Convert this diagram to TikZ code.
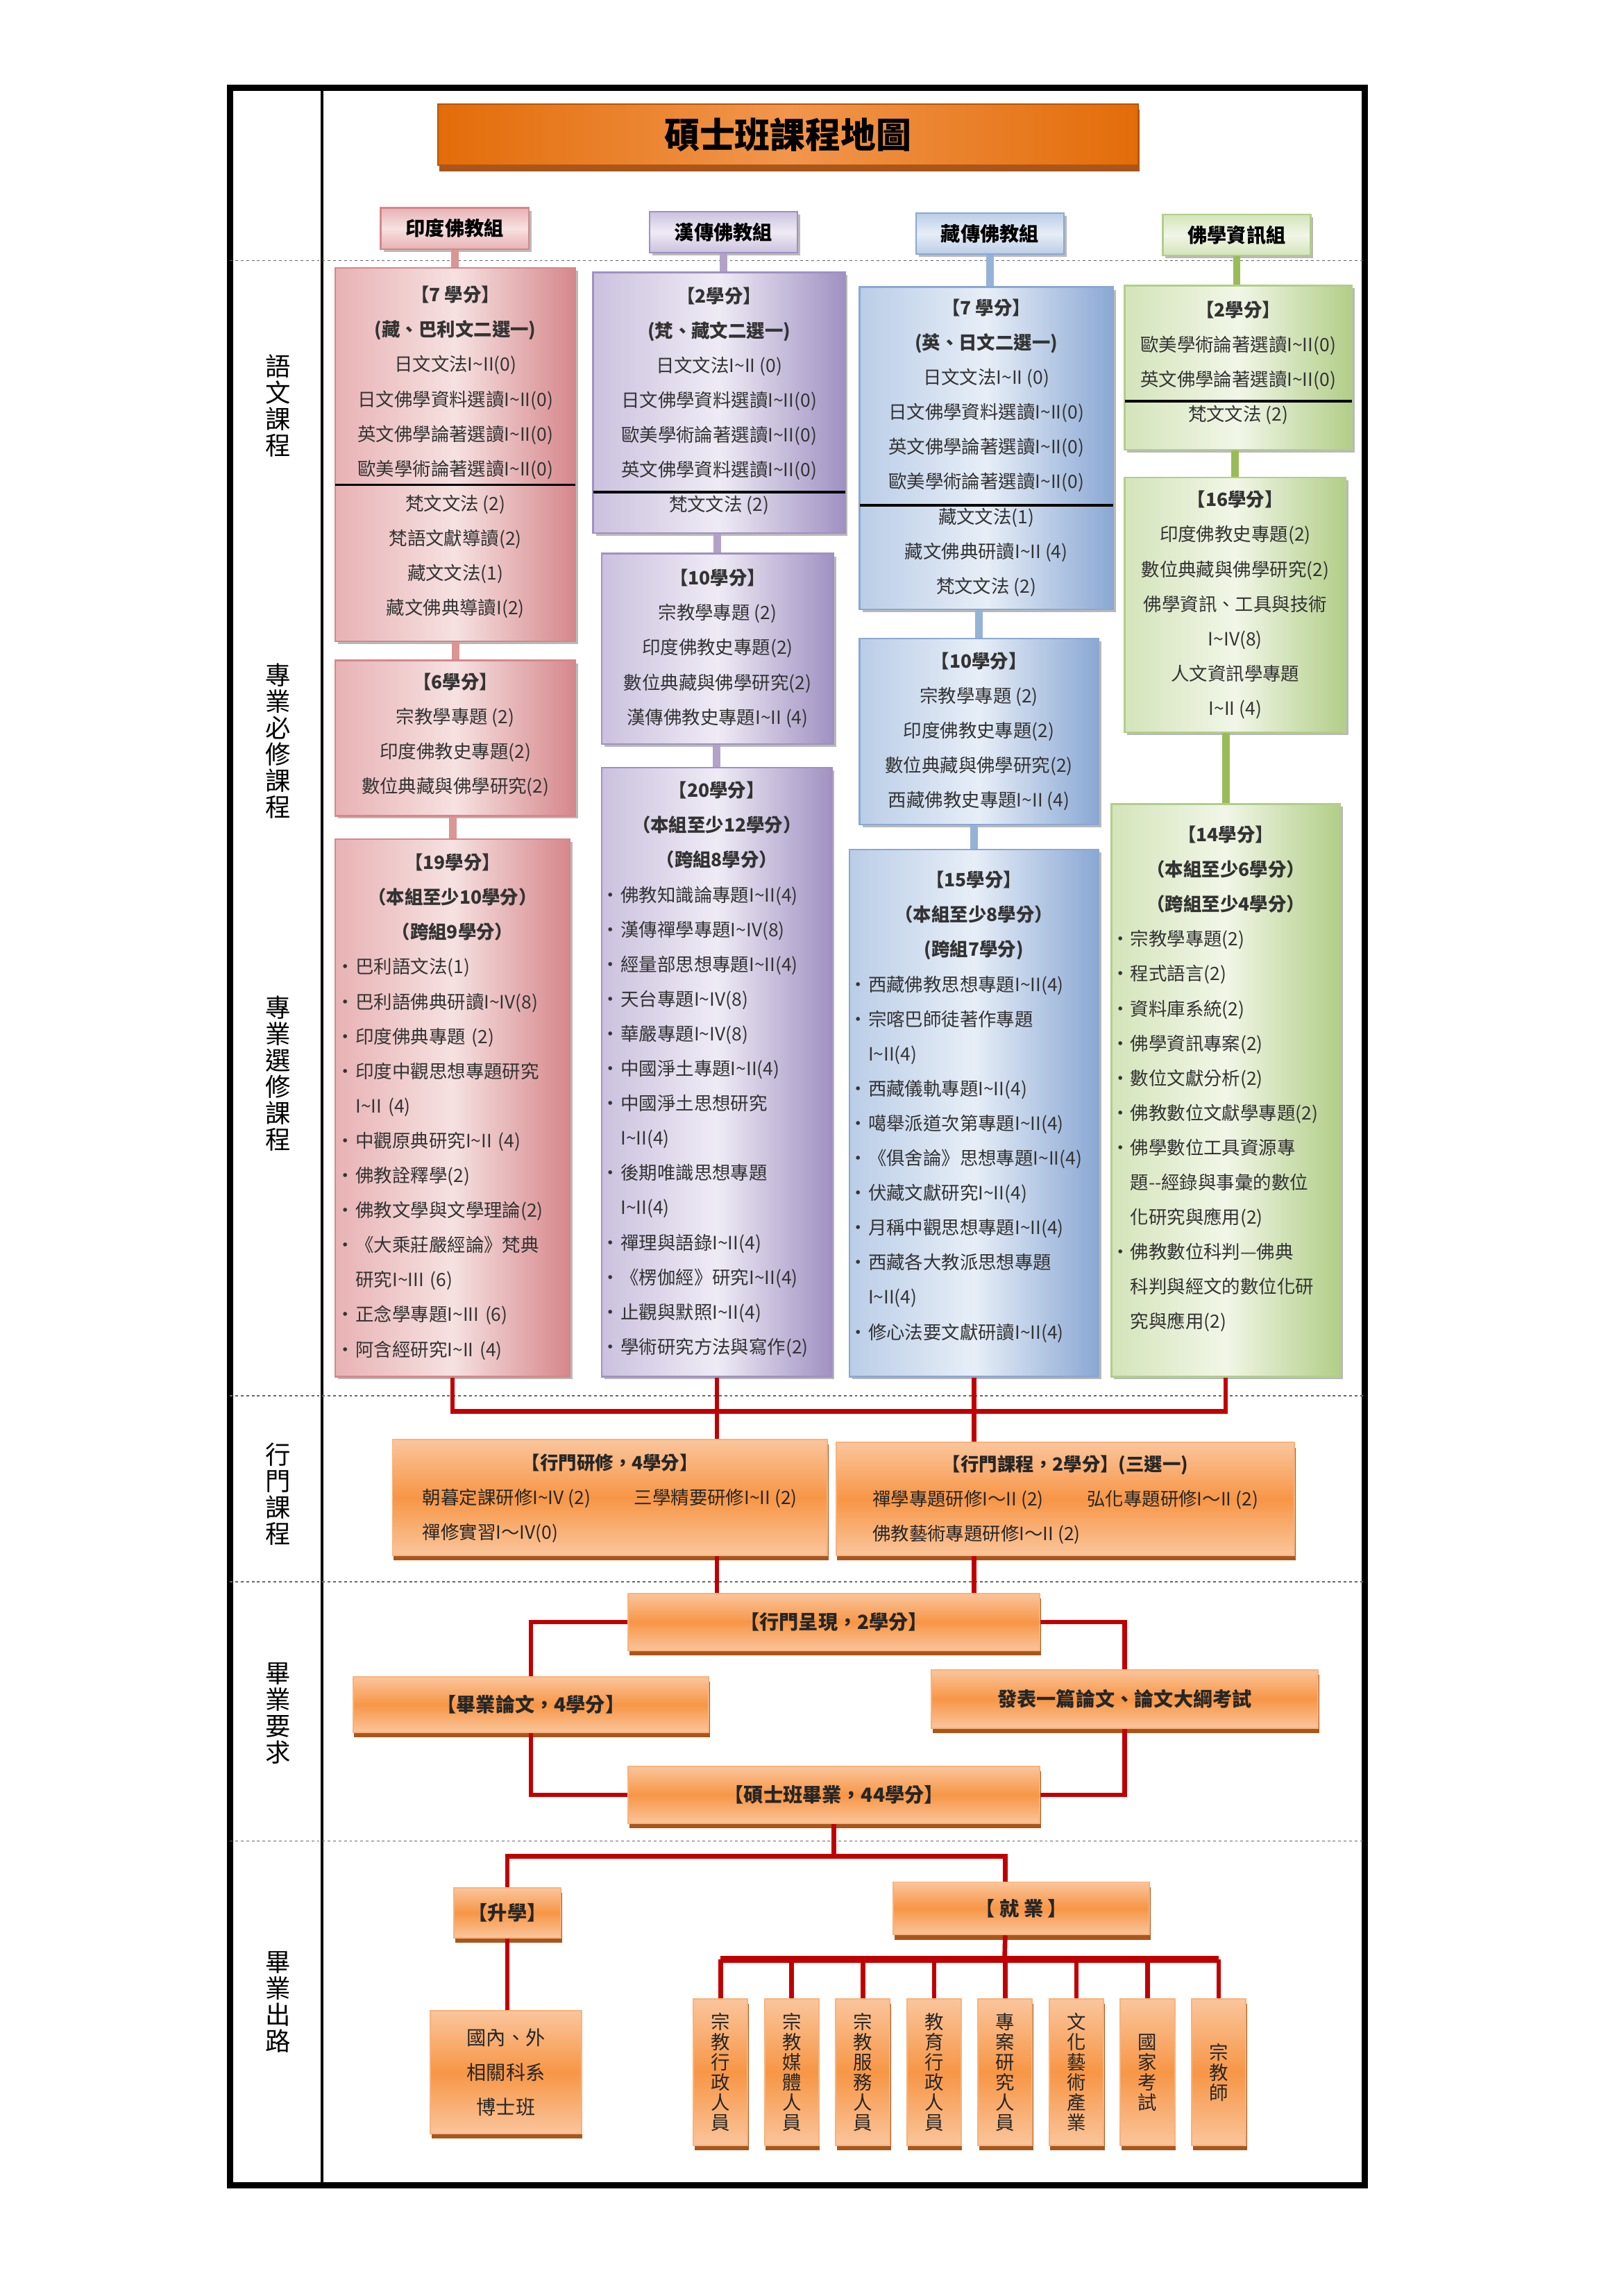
\documentclass[tikz,border=0pt]{standalone}
\usepackage{fontspec}
\setmainfont{Noto Sans CJK TC}
\usepackage{tikz}
\usetikzlibrary{shadows}

\definecolor{pinkD}{HTML}{D6878B}
\definecolor{pinkM}{HTML}{E8B2B4}
\definecolor{pinkL}{HTML}{F6E1E1}
\definecolor{pinkC}{HTML}{D99694}
\definecolor{purD}{HTML}{A091C2}
\definecolor{purM}{HTML}{CBC1DE}
\definecolor{purL}{HTML}{EFEBF5}
\definecolor{purC}{HTML}{B3A2C7}
\definecolor{bluD}{HTML}{8AA8D4}
\definecolor{bluM}{HTML}{BACDE7}
\definecolor{bluL}{HTML}{E7EEF7}
\definecolor{bluC}{HTML}{95B3D7}
\definecolor{grnD}{HTML}{B2CE88}
\definecolor{grnM}{HTML}{D4E4BA}
\definecolor{grnL}{HTML}{F1F6E7}
\definecolor{grnC}{HTML}{9BBB59}
\definecolor{orM}{HTML}{F79646}
\definecolor{orL}{HTML}{FAC59C}
\definecolor{orS}{HTML}{A9561C}
\definecolor{orT}{HTML}{E36C09}
\definecolor{orTL}{HTML}{F1964D}
\definecolor{redln}{HTML}{C00000}

\newlength{\dpx}
\setlength{\dpx}{0.5391pt}
\newcommand{\tld}{\textasciitilde}
\newcommand{\blt}{\hspace*{-0.5em}\makebox[1.05em][l]{\textbullet}}
\newcommand{\bltc}{\hspace*{0.55em}}
\newcommand{\hd}[1]{\makebox[\hsize]{\bfseries #1}}
\newcommand{\padb}[1]{\rule[-#1\dpx]{0pt}{#1\dpx}}

\begin{document}
\begin{tikzpicture}[x=0.5391pt, y=-0.5391pt,
    every node/.style={inner sep=0pt, text=black!80},
    shd/.style={drop shadow={shadow xshift=1pt, shadow yshift=-1pt, fill=black!50, opacity=0.55}},
    box/.style={line width=0.6pt, shd, font=\fontsize{6.75}{12.8}\selectfont},
    pinkbox/.style={box, draw=pinkD, left color=pinkM, right color=pinkD, middle color=pinkL},
    purbox/.style={box, draw=purD, left color=purM, right color=purD, middle color=purL},
    blubox/.style={box, draw=bluD, left color=bluM, right color=bluD, middle color=bluL},
    grnbox/.style={box, draw=grnD, left color=grnM, right color=grnD, middle color=grnL},
    hdr/.style={line width=0.6pt, shd, font=\fontsize{7.2}{8}\selectfont\bfseries, text=black,
      minimum width=101*\dpx, minimum height=28*\dpx},
    hpink/.style={hdr, draw=pinkD, top color=pinkM, bottom color=pinkM, middle color=pinkL},
    hpur/.style={hdr, draw=purD, top color=purM, bottom color=purM, middle color=purL},
    hblu/.style={hdr, draw=bluD, top color=bluM, bottom color=bluM, middle color=bluL},
    hgrn/.style={hdr, draw=grnD, top color=grnM, bottom color=grnM, middle color=grnL},
    orbox/.style={draw=orL!60!orM, line width=0.5pt, top color=orL, bottom color=orL, middle color=orM,
      drop shadow={shadow xshift=0.4pt, shadow yshift=-1.8pt, fill=orS, opacity=1},
      font=\fontsize{6.75}{12.8}\selectfont, text=black!85},
    lbl/.style={align=center, font=\fontsize{9.3}{9.7}\selectfont, text=black},
    colln/.style={line width=2.8pt},
    redl/.style={draw=redln, line width=1.7pt},
    divln/.style={line width=0.9pt, black}]

    \useasboundingbox (0,0) rectangle (1108.5,1567.7);
    % frame and rows
    \draw[line width=2.3pt] (157,60) rectangle (932,1492);
    \draw[line width=1pt] (220,60) -- (220,1492);
    \foreach \y in {178,953,1080,1257}
        \draw[black!60, line width=0.4pt, dash pattern=on 1pt off 1pt] (157,\y) -- (932,\y);

    % row labels
    \node[lbl] (L1) at (190,277) {語\\文\\課\\程};
    \node[lbl] (L2) at (190,506) {專\\業\\必\\修\\課\\程};
    \node[lbl] (L3) at (190,733) {專\\業\\選\\修\\課\\程};
    \node[lbl] (L4) at (190,1020) {行\\門\\課\\程};
    \node[lbl] (L5) at (190,1170) {畢\\業\\要\\求};
    \node[lbl] (L6) at (190,1367) {畢\\業\\出\\路};

    % title and group headers
    \node[draw=orT!80!black, line width=0.5pt, left color=orT, right color=orT, middle color=orTL,
      drop shadow={shadow xshift=0.6pt, shadow yshift=-2.2pt, fill=orS, opacity=1},
      font=\fontsize{13}{13}\selectfont\bfseries, text=black,
      minimum width=478*\dpx, minimum height=42*\dpx] (T) at (538,92) {碩士班課程地圖};
    \node[hpink] (H1) at (310.5,156) {印度佛教組};
    \node[hpur] (H2) at (494,158.5) {漢傳佛教組};
    \node[hblu] (H3) at (676,159.5) {藏傳佛教組};
    \node[hgrn] (H4) at (844.5,160.5) {佛學資訊組};

    % Indian Buddhism
    \node[pinkbox, align=center, minimum width=164*\dpx, minimum height=255*\dpx] (A1) at (311,310.5)
      {{\bfseries 【7 學分】}\\{\bfseries (藏、巴利文二選一)}\\日文文法I\tld II(0)\\日文佛學資料選讀I\tld II(0)\\
       英文佛學論著選讀I\tld II(0)\\歐美學術論著選讀I\tld II(0)\\梵文文法 (2)\\梵語文獻導讀(2)\\藏文文法(1)\\
       藏文佛典導讀I(2)\padb{6}};
    \node[pinkbox, align=center, minimum width=164*\dpx, minimum height=106*\dpx] (A2) at (311,504)
      {{\bfseries 【6學分】}\\宗教學專題 (2)\\印度佛教史專題(2)\\數位典藏與佛學研究(2)\padb{7}};
    \node[pinkbox, align=left, text width=146*\dpx, minimum width=160*\dpx, minimum height=367*\dpx] (A3) at (309,756.5)
      {\hd{【19學分】}\\\hd{（本組至少10學分）}\\\hd{（跨組9學分）}\\\blt 巴利語文法(1)\\\blt 巴利語佛典研讀I\tld IV(8)\\
       \blt 印度佛典專題 (2)\\\blt 印度中觀思想專題研究\\\bltc I\tld II (4)\\\blt 中觀原典研究I\tld II (4)\\
       \blt 佛教詮釋學(2)\\\blt 佛教文學與文學理論(2)\\\blt 《大乘莊嚴經論》梵典\\\bltc 研究I\tld III (6)\\
       \blt 正念學專題I\tld III (6)\\\blt 阿含經研究I\tld II (4)\padb{4}};

    % Chinese Buddhism
    \node[purbox, align=center, minimum width=172*\dpx, minimum height=178*\dpx] (B1) at (491,275)
      {{\bfseries 【2學分】}\\{\bfseries (梵、藏文二選一)}\\日文文法I\tld II (0)\\日文佛學資料選讀I\tld II(0)\\
       歐美學術論著選讀I\tld II(0)\\英文佛學資料選讀I\tld II(0)\\梵文文法 (2)\padb{5}};
    \node[purbox, align=center, minimum width=158*\dpx, minimum height=130*\dpx] (B2) at (490,443)
      {{\bfseries 【10學分】}\\宗教學專題 (2)\\印度佛教史專題(2)\\數位典藏與佛學研究(2)\\漢傳佛教史專題I\tld II (4)\padb{3}};
    \node[purbox, align=left, text width=145*\dpx, minimum width=157*\dpx, minimum height=416*\dpx] (B3) at (489.5,732)
      {\hd{【20學分】}\\\hd{（本組至少12學分）}\\\hd{（跨組8學分）}\\\blt 佛教知識論專題I\tld II(4)\\
       \blt 漢傳禪學專題I\tld IV(8)\\\blt 經量部思想專題I\tld II(4)\\\blt 天台專題I\tld IV(8)\\\blt 華嚴專題I\tld IV(8)\\
       \blt 中國淨土專題I\tld II(4)\\\blt 中國淨土思想研究\\\bltc I\tld II(4)\\\blt 後期唯識思想專題\\\bltc I\tld II(4)\\
       \blt 禪理與語錄I\tld II(4)\\\blt 《楞伽經》研究I\tld II(4)\\\blt 止觀與默照I\tld II(4)\\
       \blt 學術研究方法與寫作(2)\padb{6}};

    % Tibetan Buddhism
    \node[blubox, align=center, minimum width=173*\dpx, minimum height=220*\dpx] (C1) at (673.5,306)
      {{\bfseries 【7 學分】}\\{\bfseries (英、日文二選一)}\\日文文法I\tld II (0)\\日文佛學資料選讀I\tld II(0)\\
       英文佛學論著選讀I\tld II(0)\\歐美學術論著選讀I\tld II(0)\\藏文文法(1)\\藏文佛典研讀I\tld II (4)\\梵文文法 (2)\padb{3}};
    \node[blubox, align=center, minimum width=163*\dpx, minimum height=127*\dpx] (C2) at (668.5,499.5)
      {{\bfseries 【10學分】}\\宗教學專題 (2)\\印度佛教史專題(2)\\數位典藏與佛學研究(2)\\西藏佛教史專題I\tld II (4)};
    \node[blubox, align=left, text width=158*\dpx, minimum width=170*\dpx, minimum height=360*\dpx] (C3) at (665,760)
      {\hd{【15學分】}\\\hd{（本組至少8學分）}\\\hd{(跨組7學分)}\\\blt 西藏佛教思想專題I\tld II(4)\\
       \blt 宗喀巴師徒著作專題\\\bltc I\tld II(4)\\\blt 西藏儀軌專題I\tld II(4)\\\blt 噶舉派道次第專題I\tld II(4)\\
       \blt 《俱舍論》思想專題I\tld II(4)\\\blt 伏藏文獻研究I\tld II(4)\\\blt 月稱中觀思想專題I\tld II(4)\\
       \blt 西藏各大教派思想專題\\\bltc I\tld II(4)\\\blt 修心法要文獻研讀I\tld II(4)\padb{11}};

    % Buddhist informatics
    \node[grnbox, align=center, minimum width=155*\dpx, minimum height=112*\dpx] (D1) at (845.5,251)
      {{\bfseries 【2學分】}\\歐美學術論著選讀I\tld II(0)\\英文佛學論著選讀I\tld II(0)\\梵文文法 (2)\padb{9}};
    \node[grnbox, align=center, minimum width=151*\dpx, minimum height=174*\dpx] (D2) at (843.5,413)
      {{\bfseries 【16學分】}\\印度佛教史專題(2)\\數位典藏與佛學研究(2)\\佛學資訊、工具與技術\\I\tld IV(8)\\
       人文資訊學專題\\I\tld II (4)\padb{2}};
    \node[grnbox, align=left, text width=144*\dpx, minimum width=156*\dpx, minimum height=391*\dpx] (D3) at (837,744.5)
      {\hd{【14學分】}\\\hd{（本組至少6學分）}\\\hd{（跨組至少4學分）}\\\blt 宗教學專題(2)\\\blt 程式語言(2)\\
       \blt 資料庫系統(2)\\\blt 佛學資訊專案(2)\\\blt 數位文獻分析(2)\\\blt 佛教數位文獻學專題(2)\\
       \blt 佛學數位工具資源專\\\bltc 題-{}-經錄與事彙的數位\\\bltc 化研究與應用(2)\\\blt 佛教數位科判—佛典\\
       \bltc 科判與經文的數位化研\\\bltc 究與應用(2)\padb{18}};

    % dividers inside the language boxes
    \draw[divln] (229,331) -- (393,331);
    \draw[divln] (405,336) -- (577,336);
    \draw[divln] (587,345) -- (760,345);
    \draw[divln] (768,274) -- (923,274);

    % practice courses
    \node[orbox, minimum width=297*\dpx, minimum height=79*\dpx] (E1) at (416.5,1022.5)
      {\begin{tabular}{@{}l@{\hspace{16pt}}l@{}}\multicolumn{2}{c}{\bfseries 【行門研修，4學分】}\\
       朝暮定課研修I\tld IV (2) & 三學精要研修I\tld II (2)\\\multicolumn{2}{@{}l@{}}{禪修實習I～IV(0)}\end{tabular}};
    \node[orbox, minimum width=313*\dpx, minimum height=77*\dpx] (E2) at (727.5,1023.5)
      {\begin{tabular}{@{}l@{\hspace{16pt}}l@{}}\multicolumn{2}{c}{\bfseries 【行門課程，2學分】(三選一)}\\
       禪學專題研修I～II (2) & 弘化專題研修I～II (2)\\\multicolumn{2}{@{}l@{}}{佛教藝術專題研修I～II (2)}\end{tabular}};

    % graduation requirements
    \node[orbox, font=\fontsize{7.2}{8}\selectfont\bfseries, minimum width=281*\dpx, minimum height=39*\dpx] (F1) at (569.5,1107.5) {【行門呈現，2學分】};
    \node[orbox, font=\fontsize{7.2}{8}\selectfont\bfseries, minimum width=243*\dpx, minimum height=38*\dpx] (F2) at (362.5,1164) {【畢業論文，4學分】};
    \node[orbox, font=\fontsize{7.2}{8}\selectfont\bfseries, minimum width=264*\dpx, minimum height=40*\dpx] (F3) at (768,1160) {發表一篇論文、論文大綱考試};
    \node[orbox, font=\fontsize{7.2}{8}\selectfont\bfseries, minimum width=281*\dpx, minimum height=39*\dpx] (F4) at (569.5,1225.5) {【碩士班畢業，44學分】};

    % after graduation
    \node[orbox, font=\fontsize{7.2}{8}\selectfont\bfseries, minimum width=73*\dpx, minimum height=34*\dpx] (G1) at (346.5,1306) {【升學】};
    \node[orbox, font=\fontsize{7.2}{8}\selectfont\bfseries, minimum width=175*\dpx, minimum height=36*\dpx] (G2) at (697.5,1303) {【\ 就\ 業\ 】};
    \node[orbox, align=center, font=\fontsize{7.2}{12.8}\selectfont, minimum width=103*\dpx, minimum height=84*\dpx] (G3) at (345.5,1415)
      {國內、外\\相關科系\\博士班};
    \foreach \job [count=\i] in {{宗\\教\\行\\政\\人\\員},{宗\\教\\媒\\體\\人\\員},{宗\\教\\服\\務\\人\\員},
        {教\\育\\行\\政\\人\\員},{專\\案\\研\\究\\人\\員},{文\\化\\藝\\術\\產\\業},{國\\家\\考\\試},{宗\\教\\師}}
      \node[orbox, align=center, font=\fontsize{7}{7.4}\selectfont, minimum width=37*\dpx, minimum height=100*\dpx]
        (K\i) at ({492+48.6*(\i-1)},1415) {\job};

    % group connectors
    \draw[colln, pinkC] (H1.south) -- (H1.south |- A1.north);
    \draw[colln, pinkC] (A2.north) -- (A2.north |- A1.south);
    \draw[colln, pinkC] (A3.north) -- (A3.north |- A2.south);
    \draw[colln, purC] (H2.south) -- (H2.south |- B1.north);
    \draw[colln, purC] (B2.north) -- (B2.north |- B1.south);
    \draw[colln, purC] (B3.north) -- (B3.north |- B2.south);
    \draw[colln, bluC] (H3.south) -- (H3.south |- C1.north);
    \draw[colln, bluC] (C2.north) -- (C2.north |- C1.south);
    \draw[colln, bluC] (C3.north) -- (C3.north |- C2.south);
    \draw[colln, grnC] (H4.south) -- (H4.south |- D1.north);
    \draw[colln, grnC] (D2.north) -- (D2.north |- D1.south);
    \draw[colln, grnC] (D3.north) -- (D3.north |- D2.south);

    % red flow
    \draw[redl] (A3.south) -- ++(0,23) -| (D3.south);
    \draw[redl] (B3.south) -- (B3.south |- E1.north);
    \draw[redl] (C3.south) -- (C3.south |- E2.north);
    \draw[redl] (B3.south |- E1.south) -- (B3.south |- F1.north);
    \draw[redl] (C3.south |- E2.south) -- (C3.south |- F1.north);
    \draw[redl] (F1.west) -| (F2.north);
    \draw[redl] (F1.east) -| (F3.north);
    \draw[redl] (F2.south) |- (F4.west);
    \draw[redl] (F3.south) |- (F4.east);
    \draw[redl] (F4.south) -- ++(0,22) coordinate (gbus);
    \draw[redl] (G1.north) |- (gbus) -| (K5.north |- G2.north);
    \draw[redl] (G1.south) -- (G1.south |- G3.north);
    \coordinate (kbus) at (686,1338);
    \draw[redl] (K5.north |- G2.south) -- (kbus);
    \draw[redl, line width=2.6pt] (K1.north |- kbus) -- (K8.north |- kbus);
    \foreach \i in {1,...,8}
        \draw[redl] (K\i.north |- kbus) -- (K\i.north);
\end{tikzpicture}
\end{document}
